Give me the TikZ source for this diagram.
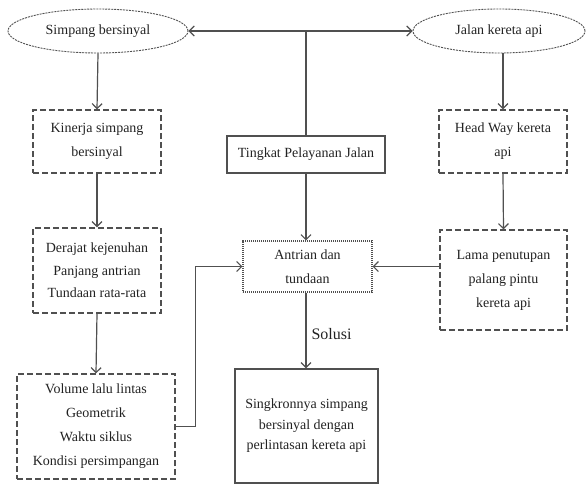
\documentclass[tikz,border=0pt]{standalone}
\usepackage{fontspec}
\setmainfont{Liberation Serif}
\usetikzlibrary{arrows.meta,shapes.geometric}
\definecolor{ln}{HTML}{505050}
\definecolor{tx}{HTML}{222222}
\begin{document}
\begin{tikzpicture}[x=1pt,y=-1pt,
  every node/.style={text=tx,font=\fontsize{14}{24}\selectfont,align=center,inner sep=0pt},
  oval/.style={ellipse,draw=ln,line width=0.9pt,dash pattern=on 2pt off 1pt},
  dbox/.style={draw=ln,line width=1.2pt,dash pattern=on 6pt off 3pt},
  sbox/.style={draw=ln,line width=1.2pt},
  obox/.style={draw=ln,line width=1.1pt,dash pattern=on 1.2pt off 0.8pt},
  conn/.style={draw=ln,line width=1.2pt},
  arr/.style={conn,-{Straight Barb[length=5pt,width=10pt]}}]
\useasboundingbox (0,0) rectangle (587,485);
\node[oval,minimum width=180,minimum height=44] (simp) at (98,31) {Simpang bersinyal};
\node[oval,minimum width=172,minimum height=44] (rail) at (499,31) {Jalan kereta api};
\node[dbox,minimum width=128,minimum height=63] (kin) at (97,141.5) {Kinerja simpang\\bersinyal};
\node[dbox,minimum width=128,minimum height=63] (head) at (503,141.5) {Head Way kereta\\api};
\node[sbox,minimum width=158,minimum height=37] (ting) at (306,154.5) {Tingkat Pelayanan Jalan};
\node[dbox,minimum width=128,minimum height=85,font=\fontsize{14}{22.5}\selectfont] (der) at (97,270.5) {Derajat kejenuhan\\Panjang antrian\\Tundaan rata-rata};
\node[obox,minimum width=129,minimum height=51] (ant) at (307.5,266.5) {Antrian dan\\tundaan};
\node[dbox,minimum width=127,minimum height=100] (lama) at (503.5,280) {Lama penutupan\\palang pintu\\kereta api};
\node[dbox,minimum width=158,minimum height=105] (vol) at (96,426.5) {Volume lalu lintas\\Geometrik\\Waktu siklus\\Kondisi persimpangan};
\node[sbox,minimum width=143,minimum height=114,font=\fontsize{14}{20.5}\selectfont] (sing) at (306.5,426) {Singkronnya simpang\\bersinyal dengan\\perlintasan kereta api};
\coordinate (top) at (306,31);
\draw[conn,{Straight Barb[length=5pt,width=10pt]}-{Straight Barb[length=5pt,width=10pt]}] (simp.east) -- (rail.west);
\draw[conn] (top) -- (ting.north);
\draw[arr] (ting.south) -- (ting.south |- ant.north);
\draw[arr] (simp.south) -- (kin.north);
\draw[arr] (kin.south) -- (der.north);
\draw[arr] (der.south) -- (vol.north);
\draw[arr] (rail.south -| head.north) -- (head.north);
\draw[arr] (head.south) -- (lama.north);
\draw[arr] (vol.east) -- ++(20,0) |- (ant.west);
\draw[arr] (lama.west |- ant.east) -- (ant.east);
\draw[arr] (ant.south -| ting.south) -- node[right=5pt,pos=0.55,font=\fontsize{16}{18}\selectfont] (sol) {Solusi} (sing.north -| ting.south);
\end{tikzpicture}
\end{document}
